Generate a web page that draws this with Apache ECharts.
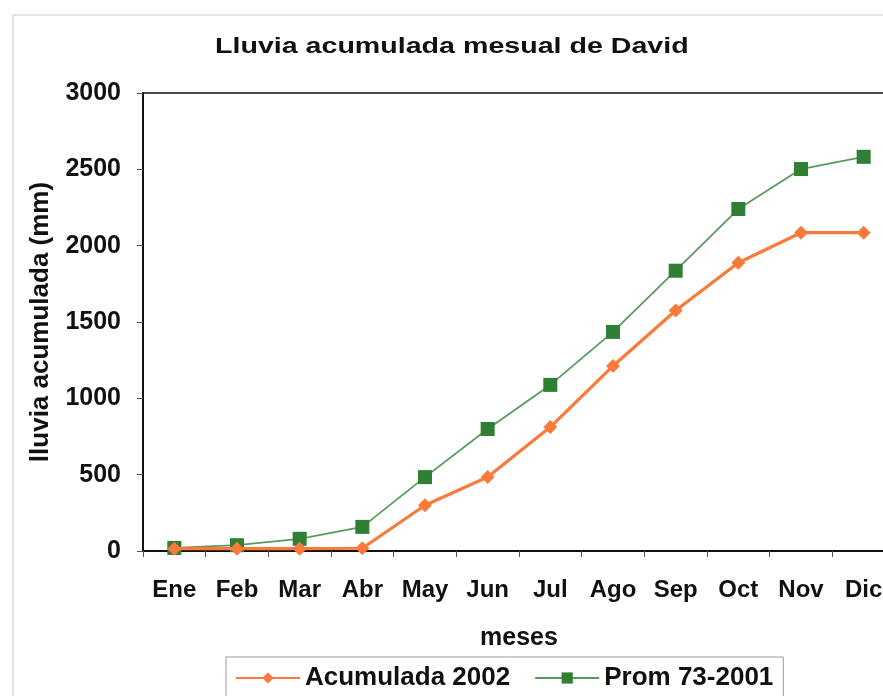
<!DOCTYPE html>
<html>
<head>
<meta charset="utf-8">
<script src="https://cdn.jsdelivr.net/npm/echarts@6/dist/echarts.min.js"></script>
<style>html,body{margin:0;padding:0;background:#fff;overflow:hidden;width:883px;height:696px;}#c{width:920px;height:696px;}</style>
</head>
<body>
<div id="c"></div>
<script>
const months = ['Ene','Feb','Mar','Abr','May','Jun','Jul','Ago','Sep','Oct','Nov','Dic'];
const acum2002 = [15, 15, 15, 18, 300, 485, 812, 1212, 1575, 1888, 2085, 2085];
const prom7301 = [20, 38, 80, 158, 484, 799, 1088, 1435, 1836, 2240, 2502, 2582];
const yTicks = [0, 500, 1000, 1500, 2000, 2500, 3000];
const titleText = 'Lluvia acumulada mesual de David';

const FONT = '"Liberation Sans", Arial, sans-serif';
const chart = echarts.init(document.getElementById('c'));
chart.setOption({
  backgroundColor: '#fff',
  animation: false,
  graphic: [
    {
      type: 'rect', shape: {x: 13, y: 15, width: 950, height: 700},
      style: {fill: 'none', stroke: '#c8c8c8', lineWidth: 1}, z: -1
    },
    {
      type: 'text', x: 215, y: 36, scaleX: 1.3,
      style: {text: titleText, font: 'bold 22px ' + FONT, fill: '#111'}
    }
  ],
  legend: {
    left: 226, top: 657,
    padding: [8, 10, 12, 9],
    borderColor: '#999', borderWidth: 1,
    itemWidth: 64, itemHeight: 14, itemGap: 24,
    textStyle: {fontFamily: FONT, fontWeight: 'bold', fontSize: 26, color: '#111'},
    data: ['Acumulada 2002', 'Prom 73-2001']
  },
  grid: {
    left: 143, top: 93, width: 752, height: 458,
    show: true, borderColor: '#111', borderWidth: 1.5, backgroundColor: 'transparent'
  },
  xAxis: {
    type: 'category', data: months, boundaryGap: true,
    name: 'meses', nameLocation: 'middle', nameGap: 75,
    nameTextStyle: {fontFamily: FONT, fontWeight: 'bold', fontSize: 25, color: '#111'},
    axisLine: {lineStyle: {color: '#111', width: 2}},
    axisTick: {show: true, length: 6, lineStyle: {color: '#555'}},
    axisLabel: {fontFamily: FONT, fontWeight: 'bold', fontSize: 24, color: '#111', margin: 27}
  },
  yAxis: {
    type: 'value', min: yTicks[0], max: yTicks[yTicks.length - 1], interval: 500,
    name: 'lluvia acumulada (mm)', nameLocation: 'middle', nameGap: 89, nameRotate: 90,
    nameTextStyle: {fontFamily: FONT, fontWeight: 'bold', fontSize: 26, color: '#111'},
    axisLine: {show: true, lineStyle: {color: '#111', width: 2}},
    axisTick: {show: true, length: 6, lineStyle: {color: '#555'}},
    splitLine: {show: false},
    axisLabel: {fontFamily: FONT, fontWeight: 'bold', fontSize: 25, color: '#111', margin: 22,
      formatter: v => String(v)}
  },
  series: [
    {
      name: 'Acumulada 2002', type: 'line', data: acum2002,
      symbol: 'diamond', symbolSize: 14,
      lineStyle: {color: '#fa7a3c', width: 3.2},
      itemStyle: {color: '#fa7a3c'}, z: 3
    },
    {
      name: 'Prom 73-2001', type: 'line', data: prom7301,
      symbol: 'rect', symbolSize: 14,
      lineStyle: {color: '#5a9a5e', width: 1.8},
      itemStyle: {color: '#2f7f34'}, z: 2
    }
  ]
});
</script>
</body>
</html>
